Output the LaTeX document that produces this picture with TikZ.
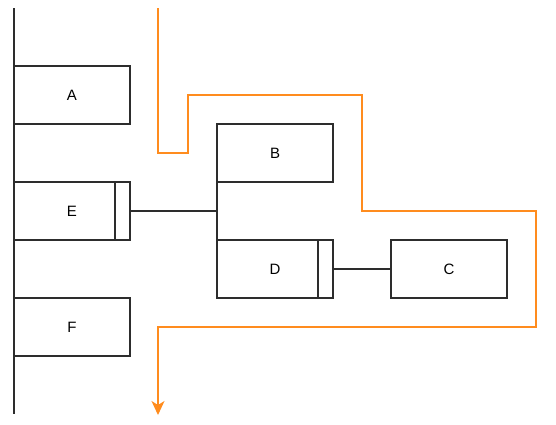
\documentclass[tikz,border=0pt]{standalone}
\usepackage{fontspec}
\setmainfont{Liberation Sans}
\usetikzlibrary{arrows.meta}
\definecolor{edge}{RGB}{45,45,45}
\definecolor{flow}{RGB}{255,140,30}
\begin{document}
\begin{tikzpicture}[x=1pt,y=-1pt,
  box/.style={draw=edge,line width=1.5pt,minimum width=116pt,minimum height=58pt,inner sep=0pt,outer sep=0pt,font=\fontsize{15pt}{17pt}\selectfont},
  link/.style={draw=edge,line width=1.5pt},
  flowline/.style={draw=flow,line width=1.5pt}]
\useasboundingbox (0,0) rectangle (556,424);
\node[box] (A) at (72,95) {A};
\node[box] (E) at (72,211) {E};
\node[box] (F) at (72,327) {F};
\node[box] (B) at (275,153) {B};
\node[box] (D) at (275,269) {D};
\node[box] (C) at (449,269) {C};
\coordinate (ltop) at (14,8);
\coordinate (lbot) at (14,414);
\draw[link] (ltop) -- (lbot);
\draw[link] ([xshift=-15pt]E.north east) -- ([xshift=-15pt]E.south east);
\draw[link] ([xshift=-15pt]D.north east) -- ([xshift=-15pt]D.south east);
\draw[link] (E.east) -- (E.east -| B.west);
\draw[link] (B.south west) -- (D.north west);
\draw[link] (D.east) -- (C.west);
\coordinate (o0) at (158,8);
\coordinate (o9) at (158,415);
\draw[flowline,-{Stealth[length=14pt,width=13pt,inset=4pt]}] (o0) -- (158,153) -- (188,153) -- (188,95) -- (362,95) -- (362,211) -- (536,211) -- (536,327) -- (158,327) -- (o9);
\end{tikzpicture}
\end{document}
